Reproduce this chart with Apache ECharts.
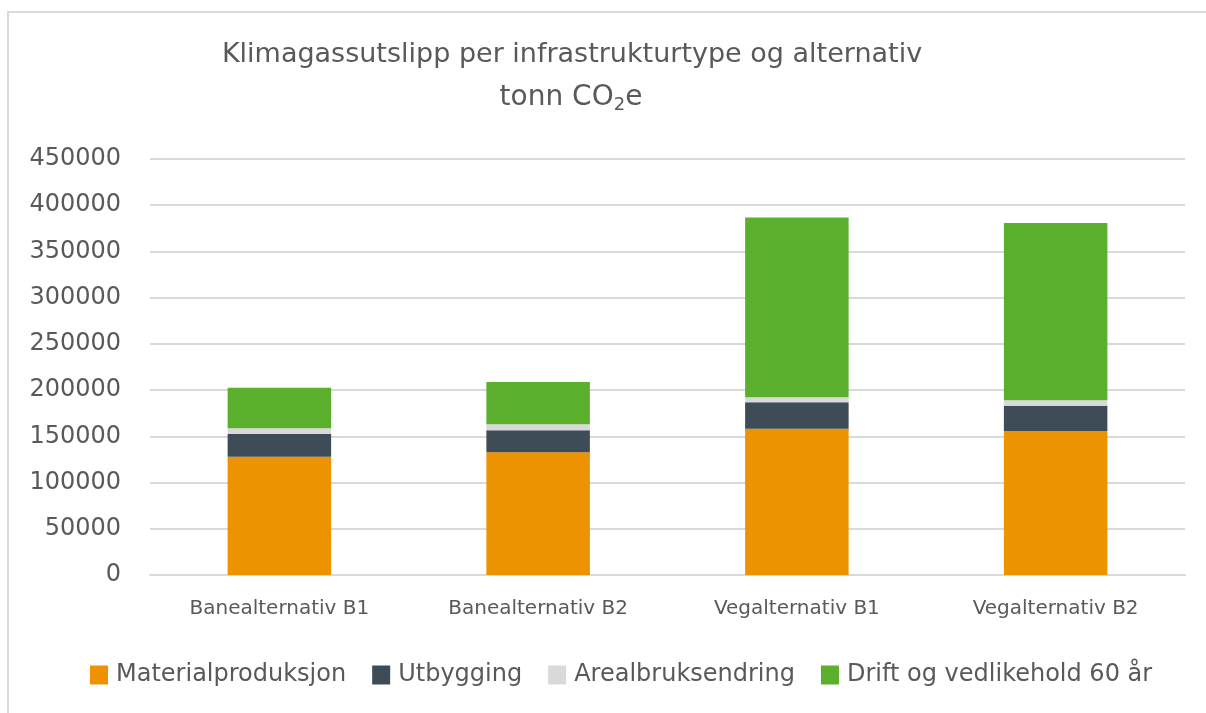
<!DOCTYPE html>
<html>
<head>
<meta charset="utf-8">
<script src="https://cdn.jsdelivr.net/npm/echarts@6/dist/echarts.min.js"></script>
<style>
  html, body { margin: 0; padding: 0; background: #ffffff; overflow: hidden; }
  #chart { width: 1206px; height: 713px; }
</style>
</head>
<body>
<div id="chart"></div>
<script>
// Categories and stacked emission components (tonn CO2e)
const categories = ['Banealternativ B1', 'Banealternativ B2', 'Vegalternativ B1', 'Vegalternativ B2'];
const seriesNames = ['Materialproduksjon', 'Utbygging', 'Arealbruksendring', 'Drift og vedlikehold 60 år'];
const materialproduksjon = [128000, 132700, 158300, 155800];
const utbygging = [24500, 23800, 28500, 27400];
const arealbruksendring = [6200, 6500, 5400, 5800];
const driftVedlikehold = [43900, 45800, 194400, 191800];
const yTicks = { min: 0, max: 450000, interval: 50000 };

const colors = ['#ED9200', '#3D4C56', '#D9D9D9', '#5AAF2D'];
const textColor = '#595959';
const fontFamily = 'DejaVu Sans';

const chart = echarts.init(document.getElementById('chart'), null, { renderer: 'canvas' });

const values = [materialproduksjon, utbygging, arealbruksendring, driftVedlikehold];

chart.setOption({
  backgroundColor: '#ffffff',
  animation: false,
  color: colors,
  // frame along the left and top edges
  graphic: [{
    type: 'polyline',
    shape: { points: [[8, 720], [8, 12], [1220, 12]] },
    style: { fill: 'none', stroke: '#D9D9D9', lineWidth: 2 },
    silent: true
  }],
  title: [{
    text: 'Klimagassutslipp per infrastrukturtype og alternativ',
    left: 567,
    top: 34,
    textAlign: 'center',
    textStyle: { color: textColor, fontFamily: fontFamily, fontWeight: 'normal', fontSize: 27, lineHeight: 32 }
  }, {
    text: 'tonn CO{sub|2}e',
    left: 566,
    top: 77,
    textAlign: 'center',
    textStyle: {
      color: textColor, fontFamily: fontFamily, fontWeight: 'normal', fontSize: 28, lineHeight: 32,
      rich: {
        sub: { fontSize: 18, fontFamily: fontFamily, color: textColor, verticalAlign: 'bottom', padding: [12, 0, 0, 0] }
      }
    }
  }],
  legend: {
    data: seriesNames,
    left: 85,
    top: 658,
    itemWidth: 18,
    itemHeight: 19,
    itemGap: 26,
    icon: 'rect',
    textStyle: { color: textColor, fontFamily: fontFamily, fontSize: 24, padding: [0, 0, 0, 3] }
  },
  grid: { left: 150, right: 21, top: 159, bottom: 138, containLabel: false },
  xAxis: {
    type: 'category',
    data: categories,
    axisLine: { show: true, lineStyle: { color: '#D9D9D9', width: 2 } },
    axisTick: { show: false },
    axisLabel: { color: textColor, fontFamily: fontFamily, fontSize: 20, margin: 24 }
  },
  yAxis: {
    type: 'value',
    min: yTicks.min,
    max: yTicks.max,
    interval: yTicks.interval,
    axisLine: { show: false },
    axisTick: { show: false },
    axisLabel: {
      color: textColor, fontFamily: fontFamily, fontSize: 24, margin: 29,
      formatter: (v) => String(v)
    },
    splitLine: { lineStyle: { color: '#D9D9D9', width: 2 } }
  },
  series: seriesNames.map((name, i) => ({
    name: name,
    type: 'bar',
    stack: 'total',
    barWidth: '40%',
    data: values[i],
    itemStyle: { color: colors[i] }
  }))
});
</script>
</body>
</html>
